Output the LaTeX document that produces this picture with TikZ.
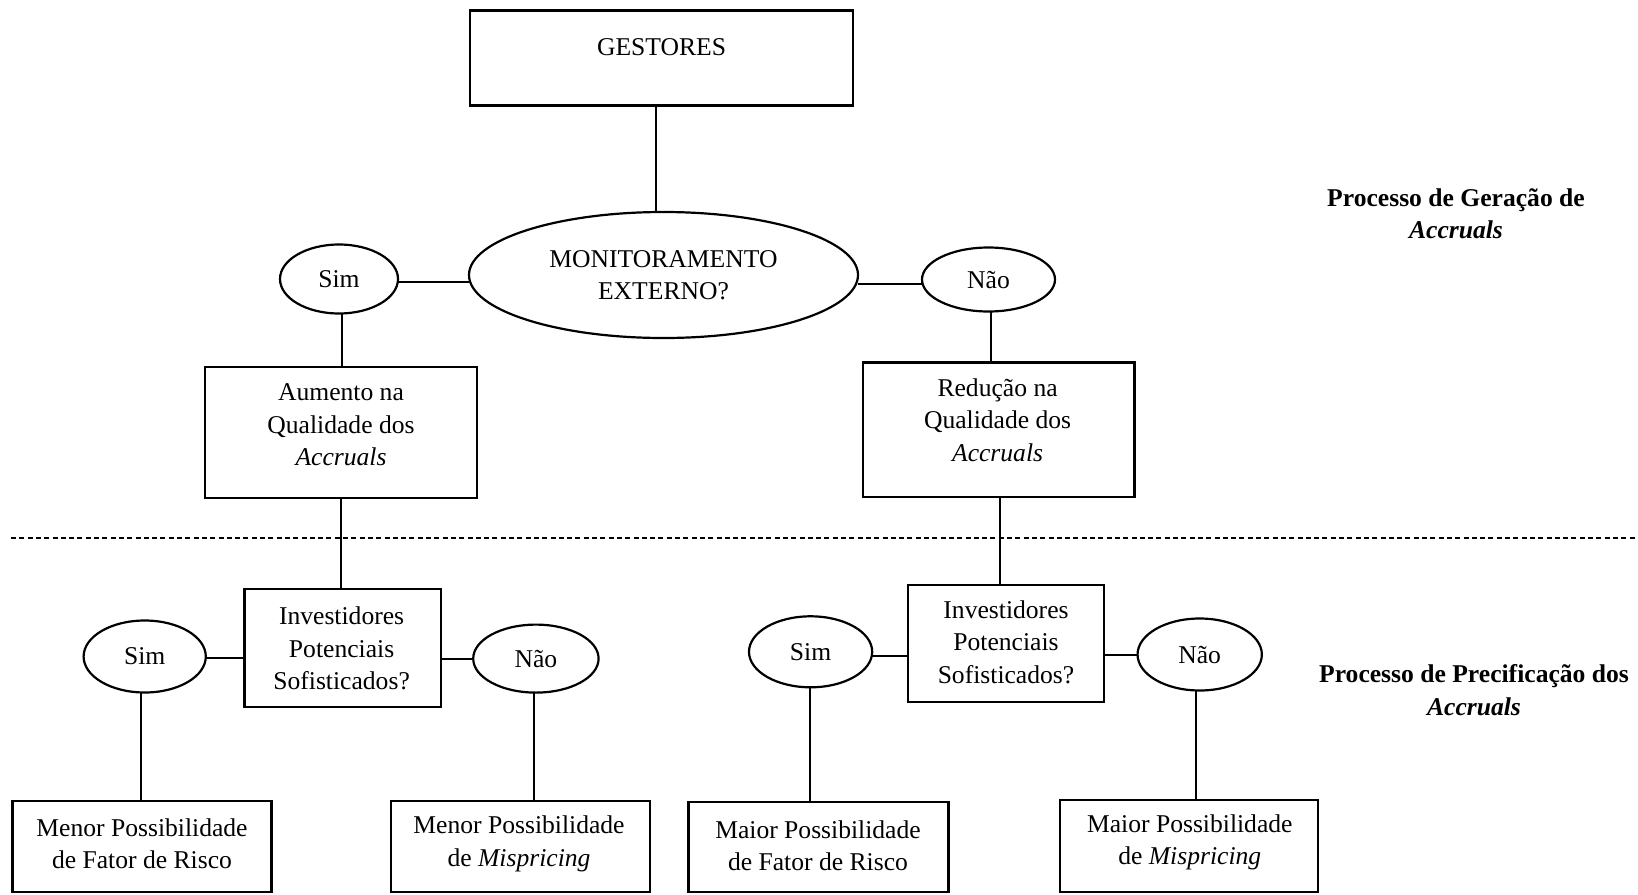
\documentclass[tikz,border=0pt]{standalone}
\usepackage{fontspec}
\setmainfont{Liberation Serif}
\usetikzlibrary{shapes.geometric}
\tikzset{
  x=1pt, y=-1pt,
  every node/.style={font=\fontsize{25.6}{32.4}\selectfont, inner sep=0pt, outer sep=0pt},
  box/.style={draw, rectangle, line width=2.2pt},
  oval/.style={draw, ellipse, line width=2.2pt},
  txt/.style={align=center},
  link/.style={line width=2pt},
  sep/.style={line width=1.3pt, dash pattern=on 5pt off 3.3pt},
  side/.style={align=center, font=\fontsize{25.6}{32.4}\selectfont\bfseries}
}
\begin{document}
\begin{tikzpicture}
\useasboundingbox (0,0) rectangle (1638,894);

% boxes
\node[box, minimum width=383, minimum height=95] (gest) at (661.5,58) {};
\node[txt] (gestT) at (661.5,47) {GESTORES};

\node[oval, minimum width=389, minimum height=126, align=center] (mon) at (663.5,275) {MONITORAMENTO\\EXTERNO?};
\node[oval, minimum width=118, minimum height=69] (simA) at (339,279) {Sim};
\node[oval, minimum width=133, minimum height=64] (naoA) at (988.5,279.5) {Não};

\node[box, minimum width=272.7, minimum height=131.6] (aum) at (341,432.5) {};
\node[txt] (aumT) at (341,425) {Aumento na\\Qualidade dos\\\textit{Accruals}};
\node[box, minimum width=271.6, minimum height=134.7] (red) at (998.6,429.8) {};
\node[txt] (redT) at (997.6,420) {Redução na\\Qualidade dos\\\textit{Accruals}};

\node[box, minimum width=196.4, minimum height=118] (invL) at (342.6,648.2) {};
\node[txt] (invLT) at (341.6,648.5) {Investidores\\Potenciais\\Sofisticados?};
\node[box, minimum width=196.3, minimum height=117] (invR) at (1006,643.5) {};
\node[txt] (invRT) at (1006,642) {Investidores\\Potenciais\\Sofisticados?};

\node[oval, minimum width=122.2, minimum height=72] (simL) at (144.7,656.5) {Sim};
\node[oval, minimum width=125.4, minimum height=68] (naoL) at (535.9,658.6) {Não};
\node[oval, minimum width=123.2, minimum height=71] (simR) at (810.6,651.8) {Sim};
\node[oval, minimum width=124.3, minimum height=72] (naoR) at (1199.7,654.5) {Não};

\node[box, minimum width=259, minimum height=91] (menF) at (142,846.6) {};
\node[txt] (menFT) at (142,844) {Menor Possibilidade\\de Fator de Risco};
\node[box, minimum width=259, minimum height=91] (menM) at (520.2,846.6) {};
\node[txt] (menMT) at (519,844) {Menor Possibilidade\\de \textit{Mispricing}};
\node[box, minimum width=260, minimum height=90] (maiF) at (818.4,847) {};
\node[txt] (maiFT) at (818,845.6) {Maior Possibilidade\\de Fator de Risco};
\node[box, minimum width=258, minimum height=92] (maiM) at (1189.3,846) {};
\node[txt] (maiMT) at (1189.8,842.5) {Maior Possibilidade\\de \textit{Mispricing}};

% side labels
\node[side] (sideA) at (1456,213.6) {Processo de Geração de\\\textit{Accruals}};
\node[side] (sideB) at (1474,690) {Processo de Precificação dos\\\textit{Accruals}};

% separator
\coordinate (sepL) at (11,538);
\coordinate (sepR) at (1638,538);
\draw[sep] (sepL) -- (sepR);

% connectors
\draw[link] ([xshift=-5.5pt]gest.south) -- ([xshift=-7.5pt]mon.north);
\draw[link] ([yshift=-3pt]simA.east) -- ([yshift=-3pt]simA.east -| mon.west);
\draw[link] ([yshift=-4pt]naoA.west -| mon.east) -- ([yshift=-4pt]naoA.west);
\draw[link] ([xshift=3pt]simA.south) -- ([xshift=3pt]simA.south |- aum.north);
\draw[link] ([xshift=2.5pt]naoA.south) -- ([xshift=2.5pt]naoA.south |- red.north);
\draw[link] (aum.south) -- (aum.south |- invL.north);
\draw[link] ([xshift=1.5pt]red.south) -- ([xshift=1.5pt]red.south |- invR.north);
\draw[link] ([yshift=-1.5pt]simL.east) -- ([yshift=-1.5pt]simL.east -| invL.west);
\draw[link] (naoL.west -| invL.east) -- (naoL.west);
\draw[link] ([yshift=-4pt]simR.east) -- ([yshift=-4pt]simR.east -| invR.west);
\draw[link] (naoR.west -| invR.east) -- (naoR.west);
\draw[link] ([xshift=-3.5pt]simL.south) -- ([xshift=-3.5pt]simL.south |- menF.north);
\draw[link] ([xshift=-2pt]naoL.south) -- ([xshift=-2pt]naoL.south |- menM.north);
\draw[link] ([xshift=-1pt]simR.south) -- ([xshift=-1pt]simR.south |- maiF.north);
\draw[link] ([xshift=-3.5pt]naoR.south) -- ([xshift=-3.5pt]naoR.south |- maiM.north);
\end{tikzpicture}
\end{document}
